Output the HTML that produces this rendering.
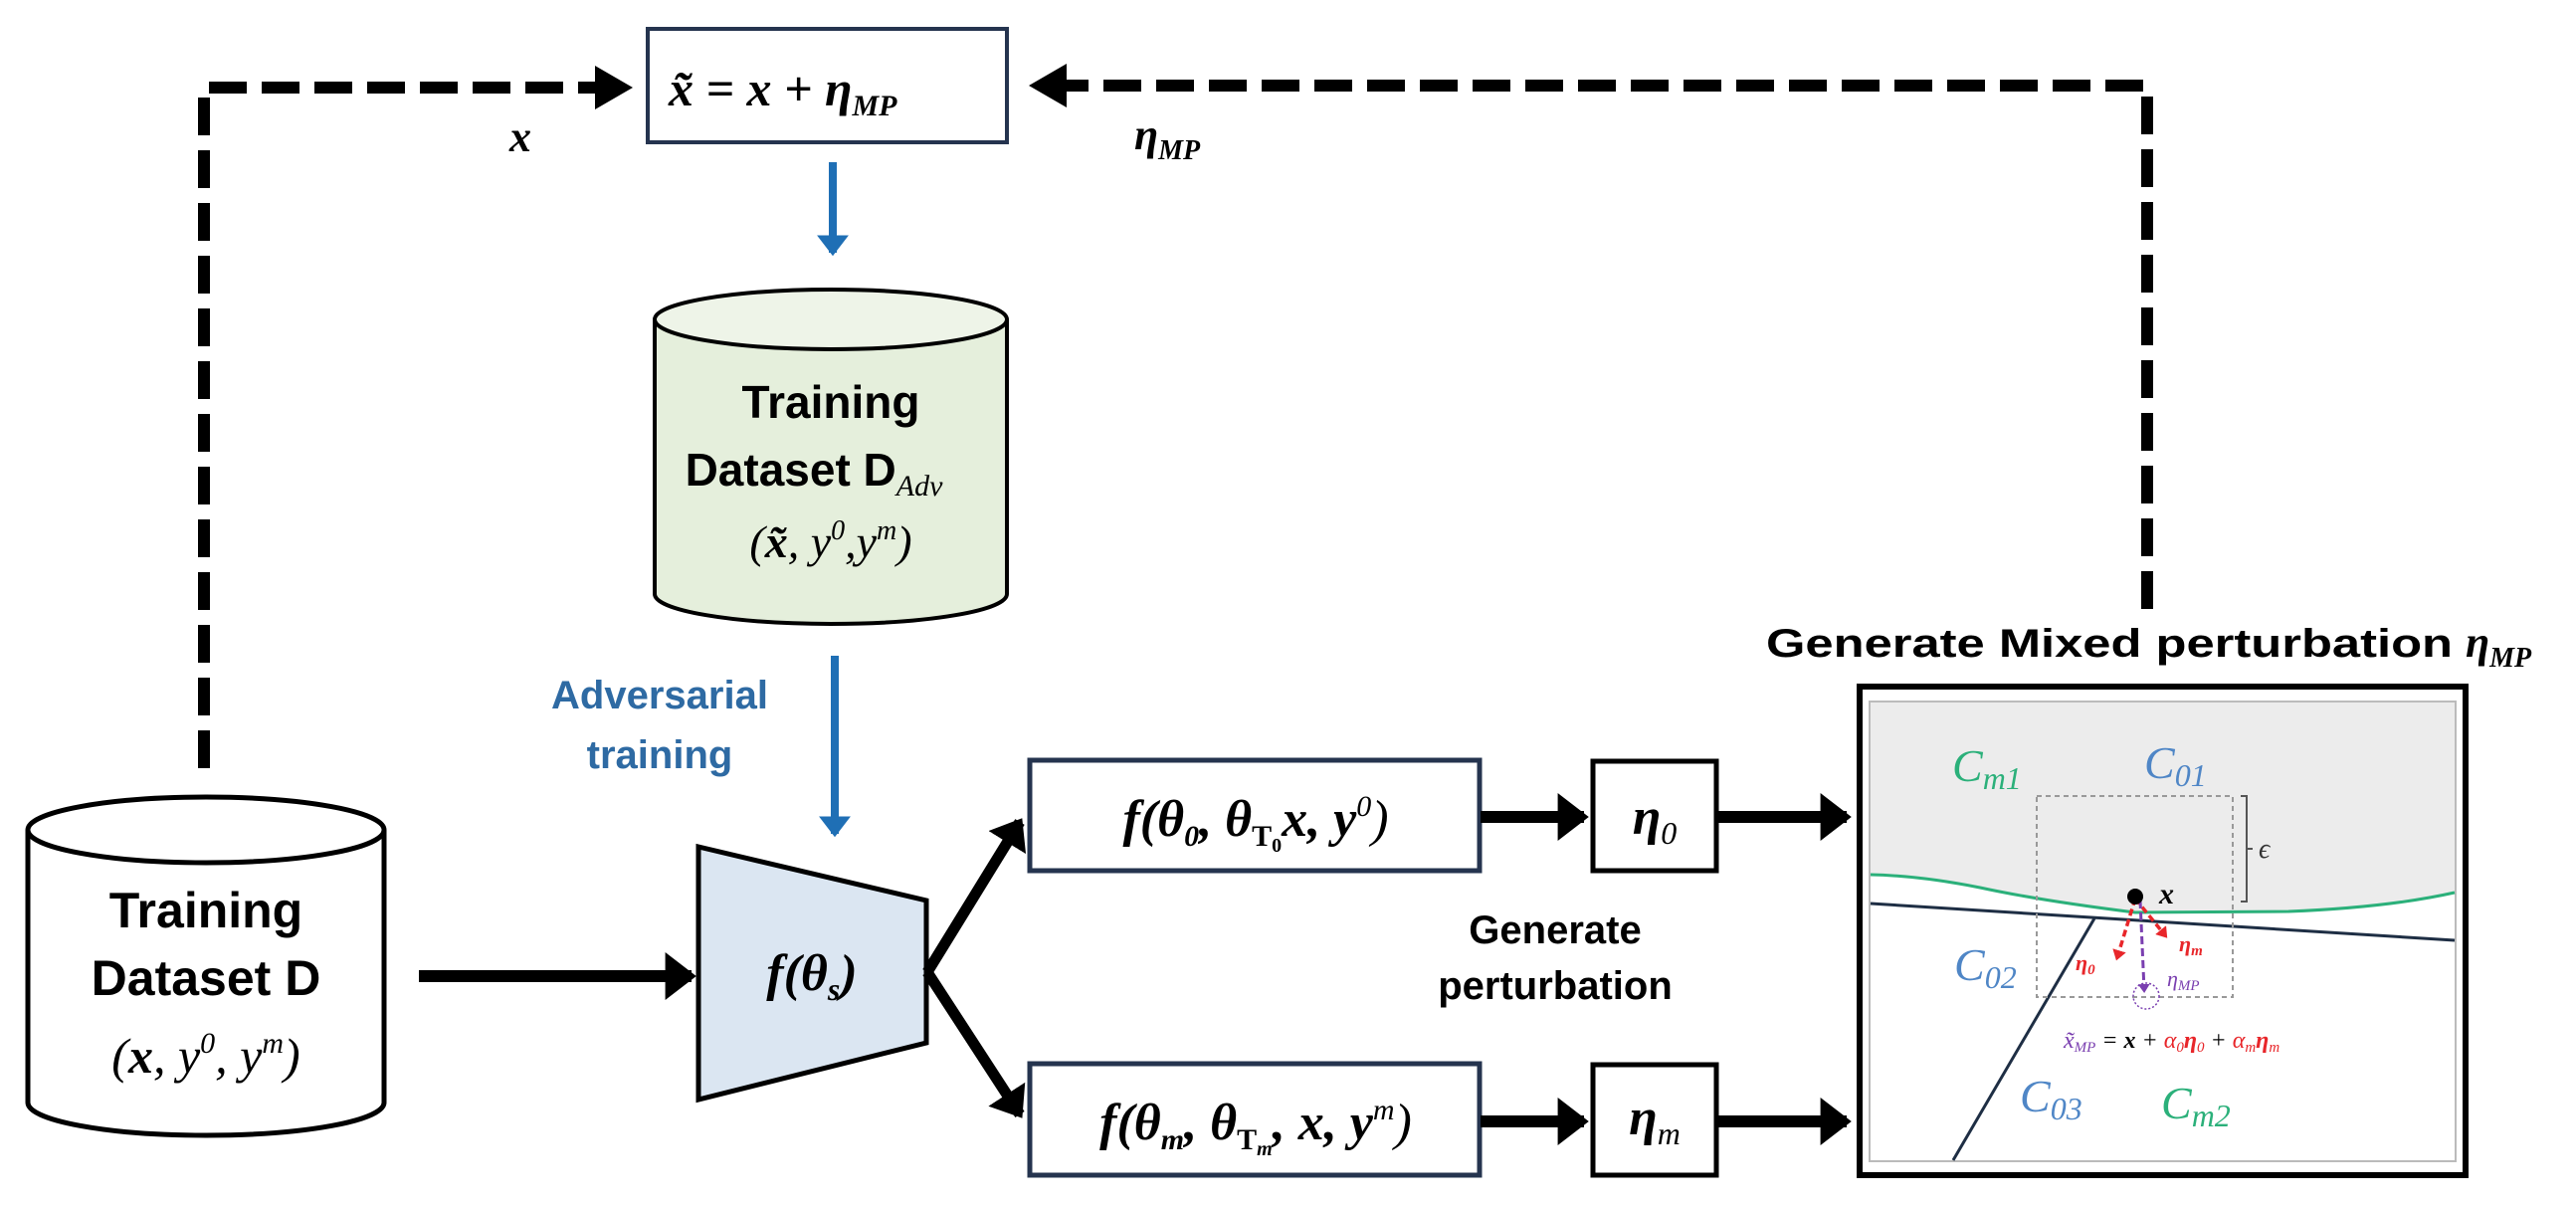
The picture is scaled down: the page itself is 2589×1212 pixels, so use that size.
<!DOCTYPE html>
<html><head><meta charset="utf-8"><style>
html,body{margin:0;padding:0;background:#fff;}
svg{display:block;}
.s{font-family:"Liberation Sans",sans-serif;font-weight:bold;}
.m{font-family:"Liberation Serif",serif;font-style:italic;}
</style></head><body>
<svg width="2589" height="1212" viewBox="0 0 2589 1212" xmlns="http://www.w3.org/2000/svg">
<defs>
<marker id="ab" markerWidth="4" markerHeight="4" refX="2.2" refY="2" orient="auto" markerUnits="strokeWidth"><path d="M0,0 L2.6,2 L0,4 z" fill="#000"/></marker>
<marker id="abl" markerWidth="4" markerHeight="4" refX="2.2" refY="2" orient="auto" markerUnits="strokeWidth"><path d="M0,0 L2.6,2 L0,4 z" fill="#1f6fb5"/></marker>
<marker id="ar" markerWidth="4" markerHeight="4" refX="2" refY="2" orient="auto" markerUnits="strokeWidth"><path d="M0,0 L3,2 L0,4 z" fill="#e8262a"/></marker>
<marker id="ap" markerWidth="4" markerHeight="4" refX="2" refY="2" orient="auto" markerUnits="strokeWidth"><path d="M0,0 L3,2 L0,4 z" fill="#7a3fb0"/></marker>
</defs>

<path d="M205,772 L205,88 L600,88" fill="none" stroke="#000" stroke-width="12" stroke-dasharray="38,15"/>
<polygon points="598,66 636,88 598,110" fill="#000"/>
<path d="M2158,612 L2158,86 L1070,86" fill="none" stroke="#000" stroke-width="12" stroke-dasharray="38,15"/>
<polygon points="1072,64 1034,86 1072,108" fill="#000"/>
<text x="512" y="152" class="m" font-size="44" font-weight="bold">x</text>
<text x="1140" y="150" class="m" font-size="44" font-weight="bold">η<tspan font-size="28" dy="10">MP</tspan></text>

<rect x="651" y="29" width="361" height="114" fill="#fff" stroke="#25344f" stroke-width="4"/>
<text x="672" y="106" class="m" font-size="50" font-weight="bold">x̃ = x + η<tspan font-size="30" dy="10">MP</tspan></text>

<line x1="837" y1="163" x2="837" y2="254" stroke="#1f6fb5" stroke-width="8" marker-end="url(#abl)"/>

<path d="M658,321 L658,597 A177,30 0 0 0 1012,597 L1012,321" fill="#e5efdc" stroke="#000" stroke-width="4"/>
<ellipse cx="835" cy="321" rx="177" ry="30" fill="#eef4e8" stroke="#000" stroke-width="4"/>
<text x="835" y="420" class="s" font-size="46" text-anchor="middle">Training</text>
<text x="818" y="488" class="s" font-size="46" text-anchor="middle">Dataset D<tspan class="m" font-weight="normal" font-size="30" dy="10">Adv</tspan></text>
<text x="835" y="560" class="m" font-size="46" text-anchor="middle">(<tspan font-weight="bold">x̃</tspan>, y<tspan font-size="28" dy="-18">0</tspan><tspan dy="18">,y</tspan><tspan font-size="28" dy="-18">m</tspan><tspan dy="18">)</tspan></text>

<line x1="839" y1="659" x2="839" y2="838" stroke="#1f6fb5" stroke-width="8" marker-end="url(#abl)"/>
<text x="663" y="712" class="s" font-size="40" fill="#2e6aa3" text-anchor="middle">Adversarial</text>
<text x="663" y="772" class="s" font-size="40" fill="#2e6aa3" text-anchor="middle">training</text>

<path d="M28,834 L28,1108 A179,33 0 0 0 386,1108 L386,834" fill="#fff" stroke="#000" stroke-width="5"/>
<ellipse cx="207" cy="834" rx="179" ry="33" fill="#fff" stroke="#000" stroke-width="5"/>
<text x="207" y="932" class="s" font-size="50" text-anchor="middle">Training</text>
<text x="207" y="1000" class="s" font-size="50" text-anchor="middle">Dataset D</text>
<text x="207" y="1078" class="m" font-size="50" text-anchor="middle">(<tspan font-weight="bold">x</tspan>, y<tspan font-size="30" dy="-20">0</tspan><tspan dy="20">, y</tspan><tspan font-size="30" dy="-20">m</tspan><tspan dy="20">)</tspan></text>

<line x1="421" y1="981" x2="695" y2="981" stroke="#000" stroke-width="12" marker-end="url(#ab)"/>

<polygon points="702,851 931,905 931,1048 702,1105" fill="#dbe6f2" stroke="#000" stroke-width="5"/>
<text x="816" y="995" class="m" font-size="52" font-weight="bold" text-anchor="middle">f(θ<tspan font-size="32" dy="10">s</tspan><tspan dy="-10">)</tspan></text>

<line x1="932" y1="977" x2="1025" y2="826" stroke="#000" stroke-width="11" marker-end="url(#ab)"/>
<line x1="932" y1="977" x2="1025" y2="1120" stroke="#000" stroke-width="11" marker-end="url(#ab)"/>

<rect x="1035" y="764" width="452" height="111" fill="#fff" stroke="#25344f" stroke-width="5"/>
<text x="1262" y="840" class="m" font-size="52" font-weight="bold" text-anchor="middle">f(θ<tspan font-size="30" dy="10">0</tspan><tspan dy="-10">, θ</tspan><tspan font-size="30" dy="10" font-style="normal">T<tspan font-size="20" dy="6">0</tspan></tspan><tspan dy="-16">x, y</tspan><tspan font-size="30" dy="-20" font-weight="normal">0</tspan><tspan dy="20" font-weight="normal">)</tspan></text>
<rect x="1035" y="1069" width="452" height="112" fill="#fff" stroke="#25344f" stroke-width="5"/>
<text x="1262" y="1145" class="m" font-size="52" font-weight="bold" text-anchor="middle">f(θ<tspan font-size="30" dy="10">m</tspan><tspan dy="-10">, θ</tspan><tspan font-size="30" dy="10" font-style="normal">T<tspan font-size="20" font-style="italic" dy="6">m</tspan></tspan><tspan dy="-16">, x, y</tspan><tspan font-size="30" dy="-20" font-weight="normal">m</tspan><tspan dy="20" font-weight="normal">)</tspan></text>

<line x1="1488" y1="821" x2="1592" y2="821" stroke="#000" stroke-width="12" marker-end="url(#ab)"/>
<line x1="1488" y1="1127" x2="1592" y2="1127" stroke="#000" stroke-width="12" marker-end="url(#ab)"/>
<rect x="1601" y="765" width="124" height="110" fill="#fff" stroke="#000" stroke-width="5"/>
<text x="1663" y="838" class="m" font-size="52" font-weight="bold" text-anchor="middle">η<tspan font-size="32" dy="10" font-weight="normal">0</tspan></text>
<rect x="1601" y="1070" width="124" height="111" fill="#fff" stroke="#000" stroke-width="5"/>
<text x="1663" y="1140" class="m" font-size="52" font-weight="bold" text-anchor="middle">η<tspan font-size="32" dy="10" font-weight="normal">m</tspan></text>
<line x1="1726" y1="821" x2="1856" y2="821" stroke="#000" stroke-width="12" marker-end="url(#ab)"/>
<line x1="1726" y1="1127" x2="1856" y2="1127" stroke="#000" stroke-width="12" marker-end="url(#ab)"/>

<text x="1563" y="948" class="s" font-size="40" text-anchor="middle">Generate</text>
<text x="1563" y="1004" class="s" font-size="40" text-anchor="middle">perturbation</text>

<text x="1775" y="660" class="s" font-size="40" textLength="690" lengthAdjust="spacingAndGlyphs">Generate Mixed perturbation</text>
<text x="2478" y="660" class="m" font-size="44" font-weight="bold">η<tspan font-size="28" dy="10">MP</tspan></text>

<rect x="1869" y="690" width="609" height="491" fill="#fff" stroke="#000" stroke-width="6"/>
<rect x="1879" y="705" width="589" height="462" fill="#fff" stroke="#bbb" stroke-width="2"/>
<path d="M1880,706 L2467,706 L2467,897 Q2400,912 2300,916 L2146,917 Q2050,905 1990,892 Q1930,880 1880,879 z" fill="#ececec"/>
<path d="M1880,879 Q1930,880 1990,892 Q2050,905 2146,917 L2300,916 Q2400,912 2467,897" fill="none" stroke="#2bb07a" stroke-width="3"/>
<line x1="1880" y1="908" x2="2467" y2="945" stroke="#1e2e44" stroke-width="3"/>
<line x1="2105" y1="923" x2="1963" y2="1166" stroke="#1e2e44" stroke-width="3"/>
<rect x="2047" y="800" width="197" height="202" fill="none" stroke="#999" stroke-width="2" stroke-dasharray="5,4"/>
<path d="M2252,800 L2258,800 L2258,906 L2252,906 M2258,853 L2264,853" fill="none" stroke="#555" stroke-width="2"/>
<text x="2270" y="862" class="m" font-size="28" fill="#333">ϵ</text>
<text x="1962" y="785" class="m" font-size="46" fill="#2bb07a">C<tspan font-size="32" dy="8">m1</tspan></text>
<text x="2155" y="782" class="m" font-size="46" fill="#4f86c6">C<tspan font-size="32" dy="8">01</tspan></text>
<text x="1964" y="985" class="m" font-size="46" fill="#4f86c6">C<tspan font-size="32" dy="8">02</tspan></text>
<text x="2030" y="1117" class="m" font-size="46" fill="#4f86c6">C<tspan font-size="32" dy="8">03</tspan></text>
<text x="2172" y="1124" class="m" font-size="46" fill="#2bb07a">C<tspan font-size="32" dy="8">m2</tspan></text>
<line x1="2146" y1="903" x2="2128" y2="962" stroke="#e8262a" stroke-width="3.5" stroke-dasharray="7,4" marker-end="url(#ar)"/>
<line x1="2146" y1="903" x2="2176" y2="940" stroke="#e8262a" stroke-width="3.5" stroke-dasharray="7,4" marker-end="url(#ar)"/>
<line x1="2151" y1="905" x2="2155" y2="995" stroke="#7a3fb0" stroke-width="3" stroke-dasharray="8,4" marker-end="url(#ap)"/>
<circle cx="2157" cy="1001" r="13" fill="none" stroke="#7a3fb0" stroke-width="1.5" stroke-dasharray="2,2"/>
<circle cx="2146" cy="901" r="8" fill="#000"/>
<text x="2170" y="908" class="m" font-size="30" font-weight="bold">x</text>
<text x="2190" y="956" class="m" font-size="22" font-weight="bold" fill="#e8262a">η<tspan font-size="15" dy="4">m</tspan></text>
<text x="2086" y="975" class="m" font-size="22" font-weight="bold" fill="#e8262a">η<tspan font-size="15" dy="4">0</tspan></text>
<text x="2178" y="991" class="m" font-size="22" fill="#7a3fb0">η<tspan font-size="15" dy="4">MP</tspan></text>
<text x="2074" y="1053" class="m" font-size="24"><tspan fill="#7a3fb0">x̃<tspan font-size="15" dy="4">MP</tspan></tspan><tspan dy="-4"> = </tspan><tspan font-weight="bold">x</tspan> + <tspan fill="#e8262a">α<tspan font-size="15" dy="4">0</tspan><tspan dy="-4" font-weight="bold">η</tspan><tspan font-size="15" dy="4">0</tspan></tspan><tspan dy="-4"> + </tspan><tspan fill="#e8262a">α<tspan font-size="15" dy="4">m</tspan><tspan dy="-4" font-weight="bold">η</tspan><tspan font-size="15" dy="4">m</tspan></tspan></text>
</svg>
</body></html>
